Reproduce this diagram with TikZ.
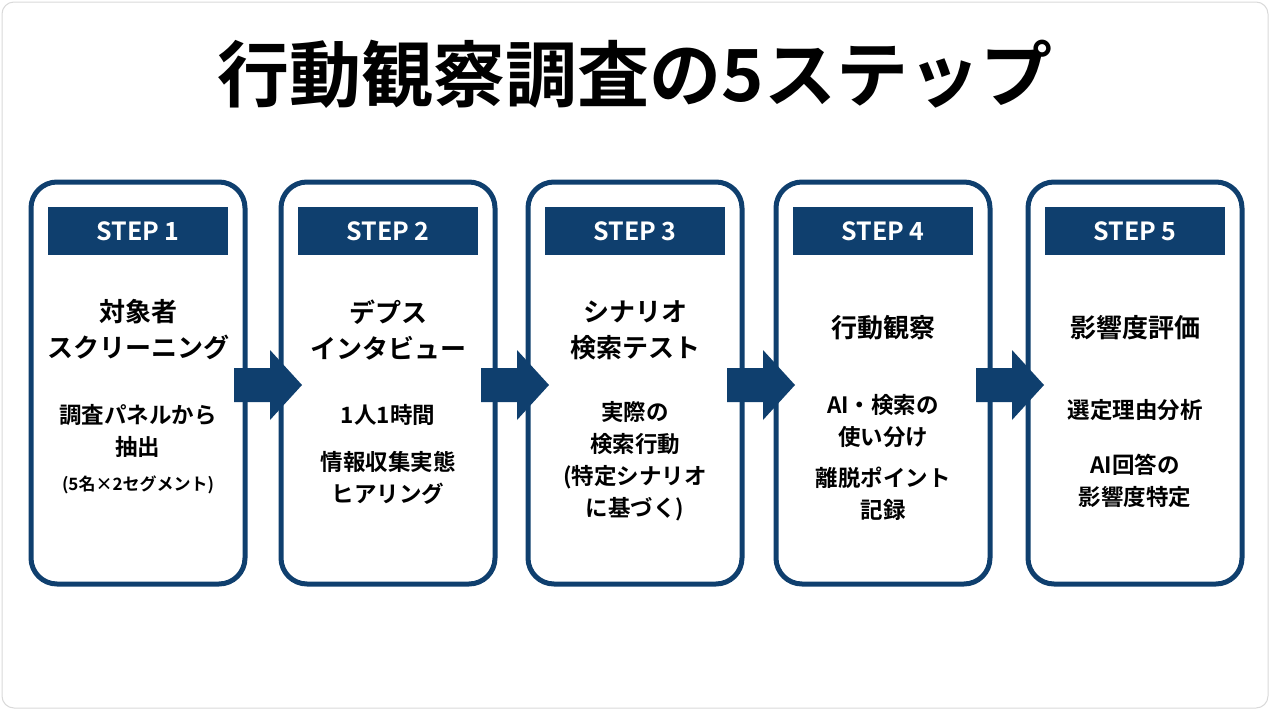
\documentclass[tikz,border=0pt]{standalone}
\usepackage{fontspec}
\setmainfont{Noto Sans CJK JP}[BoldFont={Noto Sans CJK JP Bold}]
\usetikzlibrary{calc,positioning}
\definecolor{navy}{HTML}{0F3F6E}
\tikzset{
  stepbox/.style={draw=navy, line width=5pt, rounded corners=26pt, minimum width=214pt, minimum height=402pt, fill=white},
  steptag/.style={fill=navy, text=white, font=\bfseries\fontsize{25}{28}\selectfont, minimum width=180pt, minimum height=48pt, inner sep=0pt},
  head/.style={font=\bfseries\fontsize{26}{36}\selectfont, align=center},
  body/.style={font=\bfseries\fontsize{22.5}{32}\selectfont, align=center},
  small/.style={font=\bfseries\fontsize{17}{20}\selectfont}
}
\begin{document}
\begin{tikzpicture}[x=1pt,y=-1pt]
\useasboundingbox (0,0) rectangle (1270,710);
\draw[black!15, line width=1pt, rounded corners=12pt] (2,2) rectangle (1268,708);
\node[font=\bfseries\fontsize{72}{76}\selectfont] (title) at (635,74) {行動観察調査の5ステップ};
% boxes and tags
\foreach \i/\x in {1/138,2/388,3/635,4/883,5/1135}{
  \node[stepbox] (box\i) at (\x,383) {};
  \node[steptag] (tag\i) at (\x,231) {STEP \i};
}
% arrows between boxes
\foreach \i/\x in {1/234,2/481,3/727,4/976}{
  \coordinate (ar\i) at (\x,385);
  \fill[navy] ($(ar\i)+(0,-17)$) -- ++(36,0) -- ++(0,-18) -- ++(32,35) -- ++(-32,35) -- ++(0,-18) -- ++(-36,0) -- cycle;
}
% step 1
\node[head] (h1) at (138,330) {対象者\\スクリーニング};
\node[body] (b1) at (138,431) {調査パネルから\\抽出};
\node[small] (s1) at (138,485) {(5名×2セグメント)};
% step 2
\node[head] (h2) at (388,330) {デプス\\インタビュー};
\node[body] (b2) at (388,415) {1人1時間};
\node[body] (c2) at (388,478) {情報収集実態\\ヒアリング};
% step 3
\node[head] (h3) at (635,330) {シナリオ\\検索テスト};
\node[body] (b3) at (635,461) {実際の\\検索行動\\(特定シナリオ\\に基づく)};
% step 4
\node[head] (h4) at (883,328) {行動観察};
\node[body] (b4) at (883,421) {AI・検索の\\使い分け};
\node[body] (c4) at (883,494) {離脱ポイント\\記録};
% step 5
\node[head] (h5) at (1135,328) {影響度評価};
\node[body] (b5) at (1135,410) {選定理由分析};
\node[body] (c5) at (1135,481) {AI回答の\\影響度特定};
\end{tikzpicture}
\end{document}
